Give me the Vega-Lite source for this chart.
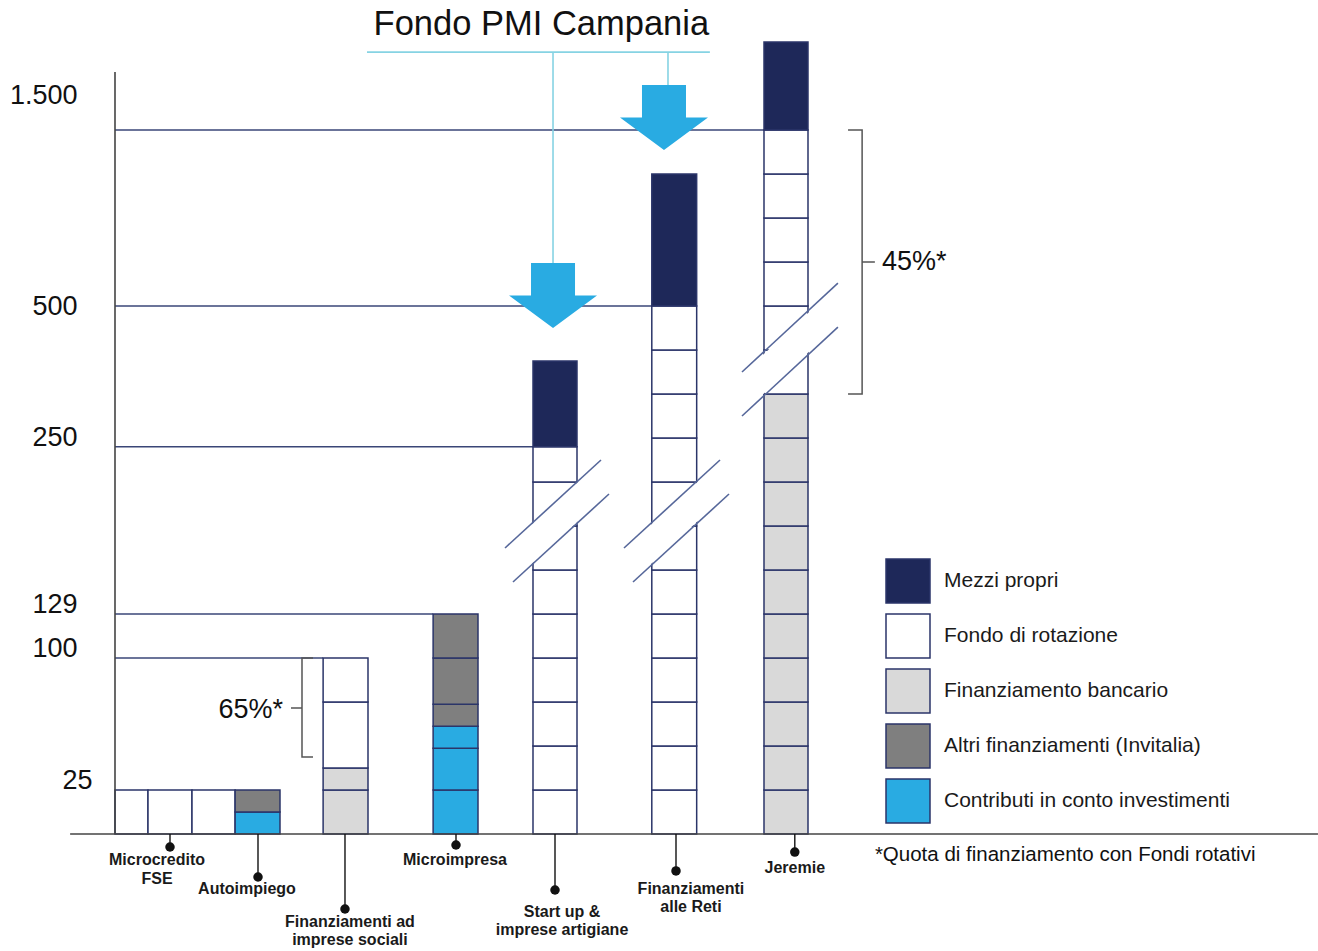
{
  "$schema": "https://vega.github.io/schema/vega-lite/v6.json",
  "width": 1318,
  "height": 951,
  "autosize": {"type": "none"},
  "padding": 0,
  "background": "white",
  "view": {"stroke": null},
  "config": {"font": "Liberation Sans"},
  "datasets": {
    "cells": [
      {"col": "Microcredito FSE", "kind": "Fondo di rotazione", "x": 0, "x2": 0.75, "y": 0, "y2": 1},
      {"col": "Microcredito FSE", "kind": "Fondo di rotazione", "x": 0.75, "x2": 1.75, "y": 0, "y2": 1},
      {"col": "Microcredito FSE", "kind": "Fondo di rotazione", "x": 1.75, "x2": 2.73, "y": 0, "y2": 1},
      {"col": "Autoimpiego", "kind": "Contributi in conto investimenti", "x": 2.73, "x2": 3.75, "y": 0, "y2": 0.5},
      {"col": "Autoimpiego", "kind": "Altri finanziamenti (Invitalia)", "x": 2.73, "x2": 3.75, "y": 0.5, "y2": 1},
      {"col": "Finanziamenti ad imprese sociali", "kind": "Finanziamento bancario", "x": 4.73, "x2": 5.75, "y": 0, "y2": 1},
      {"col": "Finanziamenti ad imprese sociali", "kind": "Finanziamento bancario", "x": 4.73, "x2": 5.75, "y": 1, "y2": 1.5},
      {"col": "Finanziamenti ad imprese sociali", "kind": "Fondo di rotazione", "x": 4.73, "x2": 5.75, "y": 1.5, "y2": 3},
      {"col": "Finanziamenti ad imprese sociali", "kind": "Fondo di rotazione", "x": 4.73, "x2": 5.75, "y": 3, "y2": 4},
      {"col": "Microimpresa", "kind": "Contributi in conto investimenti", "x": 7.23, "x2": 8.25, "y": 0, "y2": 1},
      {"col": "Microimpresa", "kind": "Contributi in conto investimenti", "x": 7.23, "x2": 8.25, "y": 1, "y2": 1.95},
      {"col": "Microimpresa", "kind": "Contributi in conto investimenti", "x": 7.23, "x2": 8.25, "y": 1.95, "y2": 2.45},
      {"col": "Microimpresa", "kind": "Altri finanziamenti (Invitalia)", "x": 7.23, "x2": 8.25, "y": 2.45, "y2": 2.95},
      {"col": "Microimpresa", "kind": "Altri finanziamenti (Invitalia)", "x": 7.23, "x2": 8.25, "y": 2.95, "y2": 4},
      {"col": "Microimpresa", "kind": "Altri finanziamenti (Invitalia)", "x": 7.23, "x2": 8.25, "y": 4, "y2": 5},
      {"col": "Start up & imprese artigiane", "kind": "Fondo di rotazione", "x": 9.5, "x2": 10.5, "y": 0, "y2": 1},
      {"col": "Start up & imprese artigiane", "kind": "Fondo di rotazione", "x": 9.5, "x2": 10.5, "y": 1, "y2": 2},
      {"col": "Start up & imprese artigiane", "kind": "Fondo di rotazione", "x": 9.5, "x2": 10.5, "y": 2, "y2": 3},
      {"col": "Start up & imprese artigiane", "kind": "Fondo di rotazione", "x": 9.5, "x2": 10.5, "y": 3, "y2": 4},
      {"col": "Start up & imprese artigiane", "kind": "Fondo di rotazione", "x": 9.5, "x2": 10.5, "y": 4, "y2": 5},
      {"col": "Start up & imprese artigiane", "kind": "Fondo di rotazione", "x": 9.5, "x2": 10.5, "y": 5, "y2": 6},
      {"col": "Start up & imprese artigiane", "kind": "Fondo di rotazione", "x": 9.5, "x2": 10.5, "y": 6, "y2": 7},
      {"col": "Start up & imprese artigiane", "kind": "Fondo di rotazione", "x": 9.5, "x2": 10.5, "y": 7, "y2": 8},
      {"col": "Start up & imprese artigiane", "kind": "Fondo di rotazione", "x": 9.5, "x2": 10.5, "y": 8, "y2": 8.8},
      {"col": "Start up & imprese artigiane", "kind": "Mezzi propri", "x": 9.5, "x2": 10.5, "y": 8.8, "y2": 10.75},
      {"col": "Finanziamenti alle Reti", "kind": "Fondo di rotazione", "x": 12.2, "x2": 13.22, "y": 0, "y2": 1},
      {"col": "Finanziamenti alle Reti", "kind": "Fondo di rotazione", "x": 12.2, "x2": 13.22, "y": 1, "y2": 2},
      {"col": "Finanziamenti alle Reti", "kind": "Fondo di rotazione", "x": 12.2, "x2": 13.22, "y": 2, "y2": 3},
      {"col": "Finanziamenti alle Reti", "kind": "Fondo di rotazione", "x": 12.2, "x2": 13.22, "y": 3, "y2": 4},
      {"col": "Finanziamenti alle Reti", "kind": "Fondo di rotazione", "x": 12.2, "x2": 13.22, "y": 4, "y2": 5},
      {"col": "Finanziamenti alle Reti", "kind": "Fondo di rotazione", "x": 12.2, "x2": 13.22, "y": 5, "y2": 6},
      {"col": "Finanziamenti alle Reti", "kind": "Fondo di rotazione", "x": 12.2, "x2": 13.22, "y": 6, "y2": 7},
      {"col": "Finanziamenti alle Reti", "kind": "Fondo di rotazione", "x": 12.2, "x2": 13.22, "y": 7, "y2": 8},
      {"col": "Finanziamenti alle Reti", "kind": "Fondo di rotazione", "x": 12.2, "x2": 13.22, "y": 8, "y2": 9},
      {"col": "Finanziamenti alle Reti", "kind": "Fondo di rotazione", "x": 12.2, "x2": 13.22, "y": 9, "y2": 10},
      {"col": "Finanziamenti alle Reti", "kind": "Fondo di rotazione", "x": 12.2, "x2": 13.22, "y": 10, "y2": 11},
      {"col": "Finanziamenti alle Reti", "kind": "Fondo di rotazione", "x": 12.2, "x2": 13.22, "y": 11, "y2": 12},
      {"col": "Finanziamenti alle Reti", "kind": "Mezzi propri", "x": 12.2, "x2": 13.22, "y": 12, "y2": 15},
      {"col": "Jeremie", "kind": "Finanziamento bancario", "x": 14.75, "x2": 15.75, "y": 0, "y2": 1},
      {"col": "Jeremie", "kind": "Finanziamento bancario", "x": 14.75, "x2": 15.75, "y": 1, "y2": 2},
      {"col": "Jeremie", "kind": "Finanziamento bancario", "x": 14.75, "x2": 15.75, "y": 2, "y2": 3},
      {"col": "Jeremie", "kind": "Finanziamento bancario", "x": 14.75, "x2": 15.75, "y": 3, "y2": 4},
      {"col": "Jeremie", "kind": "Finanziamento bancario", "x": 14.75, "x2": 15.75, "y": 4, "y2": 5},
      {"col": "Jeremie", "kind": "Finanziamento bancario", "x": 14.75, "x2": 15.75, "y": 5, "y2": 6},
      {"col": "Jeremie", "kind": "Finanziamento bancario", "x": 14.75, "x2": 15.75, "y": 6, "y2": 7},
      {"col": "Jeremie", "kind": "Finanziamento bancario", "x": 14.75, "x2": 15.75, "y": 7, "y2": 8},
      {"col": "Jeremie", "kind": "Finanziamento bancario", "x": 14.75, "x2": 15.75, "y": 8, "y2": 9},
      {"col": "Jeremie", "kind": "Finanziamento bancario", "x": 14.75, "x2": 15.75, "y": 9, "y2": 10},
      {"col": "Jeremie", "kind": "Fondo di rotazione", "x": 14.75, "x2": 15.75, "y": 10, "y2": 11},
      {"col": "Jeremie", "kind": "Fondo di rotazione", "x": 14.75, "x2": 15.75, "y": 11, "y2": 12},
      {"col": "Jeremie", "kind": "Fondo di rotazione", "x": 14.75, "x2": 15.75, "y": 12, "y2": 13},
      {"col": "Jeremie", "kind": "Fondo di rotazione", "x": 14.75, "x2": 15.75, "y": 13, "y2": 14},
      {"col": "Jeremie", "kind": "Fondo di rotazione", "x": 14.75, "x2": 15.75, "y": 14, "y2": 15},
      {"col": "Jeremie", "kind": "Fondo di rotazione", "x": 14.75, "x2": 15.75, "y": 15, "y2": 16},
      {"col": "Jeremie", "kind": "Mezzi propri", "x": 14.75, "x2": 15.75, "y": 16, "y2": 18}
    ],
    "levels": [
      {"level": "1.500", "x": 0, "x2": 14.75, "y": 16, "y2": 16},
      {"level": "500", "x": 0, "x2": 12.2, "y": 12, "y2": 12},
      {"level": "250", "x": 0, "x2": 9.5, "y": 8.8, "y2": 8.8},
      {"level": "129", "x": 0, "x2": 7.23, "y": 5, "y2": 5},
      {"level": "100", "x": 0, "x2": 4.73, "y": 4, "y2": 4}
    ],
    "guides": [
      {"x": 5.727, "x2": 13.52, "y": 17.77, "y2": 17.77},
      {"x": 9.955, "x2": 9.955, "y": 17.77, "y2": 12.977},
      {"x": 12.568, "x2": 12.568, "y": 17.77, "y2": 17.02}
    ],
    "frame": [
      {"x": 0, "x2": 0, "y": 0, "y2": 17.32},
      {"x": -1.02, "x2": 27.34, "y": 0, "y2": 0}
    ],
    "breaks": [
      {"id": "S-u", "part": "line", "x": 8.864, "y": 6.5},
      {"id": "S-u", "part": "line", "x": 11.045, "y": 8.5},
      {"id": "S-l", "part": "line", "x": 9.045, "y": 5.727},
      {"id": "S-l", "part": "line", "x": 11.227, "y": 7.727},
      {"id": "S-m", "part": "gap", "x": 8.955, "y": 6.114},
      {"id": "S-m", "part": "gap", "x": 11.136, "y": 8.114},
      {"id": "R-u", "part": "line", "x": 11.568, "y": 6.5},
      {"id": "R-u", "part": "line", "x": 13.75, "y": 8.5},
      {"id": "R-l", "part": "line", "x": 11.773, "y": 5.727},
      {"id": "R-l", "part": "line", "x": 13.955, "y": 7.727},
      {"id": "R-m", "part": "gap", "x": 11.67, "y": 6.114},
      {"id": "R-m", "part": "gap", "x": 13.85, "y": 8.114},
      {"id": "J-u", "part": "line", "x": 14.25, "y": 10.5},
      {"id": "J-u", "part": "line", "x": 16.43, "y": 12.52},
      {"id": "J-l", "part": "line", "x": 14.25, "y": 9.5},
      {"id": "J-l", "part": "line", "x": 16.43, "y": 11.52},
      {"id": "J-m", "part": "gap", "x": 14.25, "y": 10.0},
      {"id": "J-m", "part": "gap", "x": 16.43, "y": 12.02}
    ],
    "programmes": [
      {"name": "Microcredito\nFSE", "x": 1.25, "y": -0.295, "lx": 0.955, "ly": -0.42},
      {"name": "Autoimpiego", "x": 3.25, "y": -0.977, "lx": 3.0, "ly": -1.057},
      {"name": "Finanziamenti ad\nimprese sociali", "x": 5.227, "y": -1.705, "lx": 5.34, "ly": -1.807},
      {"name": "Microimpresa", "x": 7.75, "y": -0.25, "lx": 7.727, "ly": -0.42},
      {"name": "Start up &\nimprese artigiane", "x": 10.0, "y": -1.273, "lx": 10.16, "ly": -1.58},
      {"name": "Finanziamenti\nalle Reti", "x": 12.75, "y": -0.84, "lx": 13.09, "ly": -1.057},
      {"name": "Jeremie", "x": 15.45, "y": -0.41, "lx": 15.45, "ly": -0.58}
    ],
    "brackets": [
      {"id": "b65", "o": 1, "x": 4.5, "y": 4.0},
      {"id": "b65", "o": 2, "x": 4.25, "y": 4.0},
      {"id": "b65", "o": 3, "x": 4.25, "y": 2.864},
      {"id": "b65", "o": 4, "x": 4.0, "y": 2.864},
      {"id": "b65", "o": 5, "x": 4.25, "y": 2.864},
      {"id": "b65", "o": 6, "x": 4.25, "y": 1.75},
      {"id": "b65", "o": 7, "x": 4.5, "y": 1.75},
      {"id": "b45", "o": 1, "x": 16.66, "y": 16.0},
      {"id": "b45", "o": 2, "x": 16.98, "y": 16.0},
      {"id": "b45", "o": 3, "x": 16.98, "y": 13.0},
      {"id": "b45", "o": 4, "x": 17.27, "y": 13.0},
      {"id": "b45", "o": 5, "x": 16.98, "y": 13.0},
      {"id": "b45", "o": 6, "x": 16.98, "y": 10.0},
      {"id": "b45", "o": 7, "x": 16.66, "y": 10.0}
    ],
    "notes": [
      {"id": "title", "text": "Fondo PMI Campania", "x": 9.69, "y": 18.386},
      {"id": "p65", "text": "65%*", "x": 3.818, "y": 2.818},
      {"id": "p45", "text": "45%*", "x": 17.43, "y": 13.0},
      {"id": "foot", "text": "*Quota di finanziamento con Fondi rotativi", "x": 17.27, "y": -0.477}
    ],
    "arrows": [
      {"target": "Finanziamenti alle Reti", "x": 12.477, "y": 16.284},
      {"target": "Start up & imprese artigiane", "x": 9.955, "y": 12.24}
    ]
  },
  "encoding": {
    "x": {"field": "x", "type": "quantitative", "scale": {"domain": [-2.6136, 27.3409], "nice": false, "zero": false}, "axis": null},
    "y": {
      "field": "y", "type": "quantitative",
      "scale": {"domain": [-2.6591, 18.9545], "nice": false, "zero": false},
      "axis": {
        "values": [1, 4, 5, 8.8, 12, 16],
        "labelExpr": "datum.value == 16 ? '1.500' : datum.value == 12 ? '500' : datum.value == 8.8 ? '250' : datum.value == 5 ? '129' : datum.value == 4 ? '100' : '25'",
        "domain": false, "ticks": false, "tickSize": 0, "grid": false, "title": null,
        "offset": -115,
        "labelFont": "Liberation Sans", "labelFontSize": 27, "labelColor": "#111111",
        "labelFlush": false, "labelOverlap": false, "labelBound": false,
        "labelPadding": {"condition": {"test": "datum.value == 1", "value": 23}, "value": 38},
        "labelOffset": {"condition": [{"test": "datum.value == 16", "value": -34}, {"test": "datum.value == 12", "value": 1}], "value": -9}
      }
    }
  },
  "layer": [
    {
      "data": {"name": "levels"},
      "mark": {"type": "rule", "color": "#3a4677", "strokeWidth": 1.4},
      "encoding": {"x2": {"field": "x2"}, "y2": {"field": "y2"}}
    },
    {
      "data": {"name": "guides"},
      "mark": {"type": "rule", "color": "#86d3e3", "strokeWidth": 1.6},
      "encoding": {"x2": {"field": "x2"}, "y2": {"field": "y2"}}
    },
    {
      "data": {"name": "cells"},
      "mark": {"type": "rect", "stroke": "#2b3569", "strokeWidth": 1.5},
      "encoding": {
        "x2": {"field": "x2"},
        "y2": {"field": "y2"},
        "fill": {
          "field": "kind", "type": "nominal",
          "scale": {
            "domain": ["Mezzi propri", "Fondo di rotazione", "Finanziamento bancario", "Altri finanziamenti (Invitalia)", "Contributi in conto investimenti"],
            "range": ["#1e2859", "#ffffff", "#d9d9d9", "#7f7f7f", "#29abe2"]
          },
          "legend": {
            "orient": "none", "legendX": 885, "legendY": 558, "title": null,
            "symbolType": "square", "symbolSize": 1936, "symbolStrokeColor": "#2b3569", "symbolStrokeWidth": 1.5,
            "symbolOpacity": 1,
            "labelFont": "Liberation Sans", "labelFontSize": 21, "labelColor": "#1a1a1a", "labelOffset": 13, "labelLimit": 400,
            "rowPadding": 5
          }
        }
      }
    },
    {
      "data": {"name": "breaks"},
      "transform": [{"filter": "datum.part == 'gap'"}],
      "mark": {"type": "line", "color": "white", "strokeWidth": 29, "strokeCap": "butt"},
      "encoding": {"detail": {"field": "id"}}
    },
    {
      "data": {"name": "breaks"},
      "transform": [{"filter": "datum.part == 'line'"}],
      "mark": {"type": "line", "color": "#56679a", "strokeWidth": 1.6},
      "encoding": {"detail": {"field": "id"}}
    },
    {
      "data": {"name": "frame"},
      "mark": {"type": "rule", "color": "#444444", "strokeWidth": 1.6},
      "encoding": {"x2": {"field": "x2"}, "y2": {"field": "y2"}}
    },
    {
      "data": {"name": "programmes"},
      "mark": {"type": "rule", "color": "#111111", "strokeWidth": 1.4},
      "encoding": {"y2": {"datum": 0}}
    },
    {
      "data": {"name": "programmes"},
      "mark": {"type": "circle", "color": "#111111", "size": 90, "opacity": 1},
      "encoding": {}
    },
    {
      "data": {"name": "programmes"},
      "mark": {"type": "text", "font": "Liberation Sans", "fontWeight": "bold", "fontSize": 16, "align": "center", "baseline": "top", "lineBreak": "\n", "lineHeight": 18.5, "color": "#1a1a1a"},
      "encoding": {"x": {"field": "lx", "type": "quantitative"}, "y": {"field": "ly", "type": "quantitative"}, "text": {"field": "name"}}
    },
    {
      "data": {"name": "brackets"},
      "mark": {"type": "line", "color": "#555555", "strokeWidth": 1.5},
      "encoding": {"detail": {"field": "id"}, "order": {"field": "o", "type": "quantitative"}}
    },
    {
      "data": {"name": "notes"},
      "transform": [{"filter": "datum.id == 'title'"}],
      "mark": {"type": "text", "font": "Liberation Sans", "fontSize": 34.5, "align": "center", "baseline": "middle", "color": "#111111"},
      "encoding": {"text": {"field": "text"}}
    },
    {
      "data": {"name": "notes"},
      "transform": [{"filter": "datum.id == 'p65'"}],
      "mark": {"type": "text", "font": "Liberation Sans", "fontSize": 27, "align": "right", "baseline": "middle", "color": "#111111"},
      "encoding": {"text": {"field": "text"}}
    },
    {
      "data": {"name": "notes"},
      "transform": [{"filter": "datum.id == 'p45'"}],
      "mark": {"type": "text", "font": "Liberation Sans", "fontSize": 27, "align": "left", "baseline": "middle", "color": "#111111"},
      "encoding": {"text": {"field": "text"}}
    },
    {
      "data": {"name": "notes"},
      "transform": [{"filter": "datum.id == 'foot'"}],
      "mark": {"type": "text", "font": "Liberation Sans", "fontSize": 20.5, "align": "left", "baseline": "middle", "color": "#111111"},
      "encoding": {"text": {"field": "text"}}
    },
    {
      "data": {"name": "arrows"},
      "mark": {"type": "point", "shape": "M-0.5,-0.74L0.5,-0.74L0.5,0L1,0L0,0.74L-1,0L-0.5,0Z", "size": 7744, "filled": true, "fill": "#29abe2", "strokeWidth": 0, "opacity": 1},
      "encoding": {}
    }
  ]
}
